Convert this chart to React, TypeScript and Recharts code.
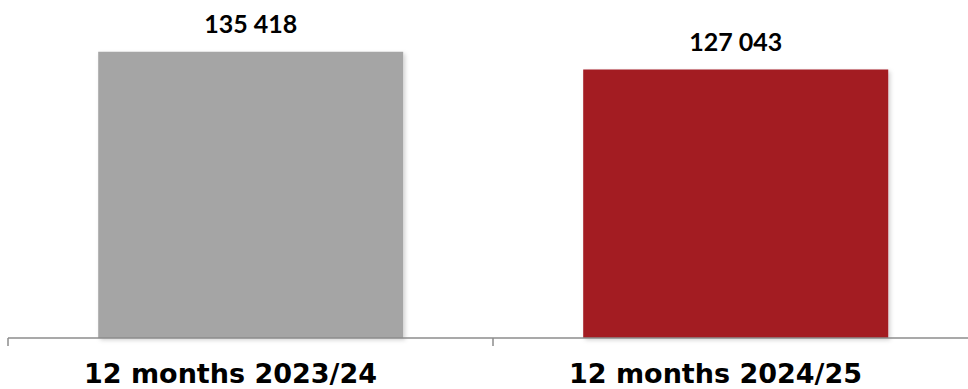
import { Bar, BarChart, Cell, LabelList, XAxis, YAxis } from "recharts";

const periods = ["12 months 2023/24", "12 months 2024/25"];
const totals = [135418, 127043];
const barColors = ["#a5a5a5", "#a31c22"];

const data = periods.map((period, i) => ({ period, total: totals[i] }));

const fmt = (v: number) => String(v).replace(/\B(?=(\d{3})+(?!\d))/g, " ");

function PeriodTick(props: any) {
  const { x, y, payload } = props;
  const half = payload && payload.offset ? payload.offset : 242.5;
  return (
    <g>
      <line x1={x - half} x2={x - half} y1={y - 8} y2={y} stroke="#8c8c8c" strokeWidth={1.5} />
      <text
        x={x - 20}
        y={y + 37}
        textAnchor="middle"
        fontFamily="'DejaVu Sans', Verdana, sans-serif"
        fontWeight="bold"
        fontSize={27}
        fill="#000"
      >
        {payload.value}
      </text>
    </g>
  );
}

function ValueLabel(props: any) {
  const { x, y, width, value } = props;
  return (
    <text
      x={x + width / 2}
      y={y - 19}
      textAnchor="middle"
      fontFamily="Lato, 'Open Sans', sans-serif"
      fontWeight="bold"
      fontSize={25}
      fill="#000"
    >
      {fmt(value)}
    </text>
  );
}

export default function App() {
  return (
    <div style={{ position: "absolute", left: 0, top: 0, width: 968, height: 389, overflow: "hidden", background: "#fff" }}>
      <BarChart
        width={990}
        height={389}
        data={data}
        margin={{ top: 21, right: 12, bottom: 0, left: 8 }}
        barCategoryGap="18.6%"
      >
        <defs>
          <filter id="barShadow" x="-5%" y="-5%" width="115%" height="115%">
            <feDropShadow dx="2" dy="2" stdDeviation="2" floodColor="#000" floodOpacity="0.18" />
          </filter>
        </defs>
        <XAxis
          dataKey="period"
          height={51}
          axisLine={{ stroke: "#8c8c8c", strokeWidth: 1.5 }}
          tickLine={false}
          tick={<PeriodTick />}
          interval={0}
        />
        <YAxis hide domain={[0, 150000]} />
        <Bar dataKey="total" isAnimationActive={false} filter="url(#barShadow)">
          {data.map((d, i) => (
            <Cell key={d.period} fill={barColors[i]} />
          ))}
          <LabelList dataKey="total" content={<ValueLabel />} />
        </Bar>
      </BarChart>
    </div>
  );
}
